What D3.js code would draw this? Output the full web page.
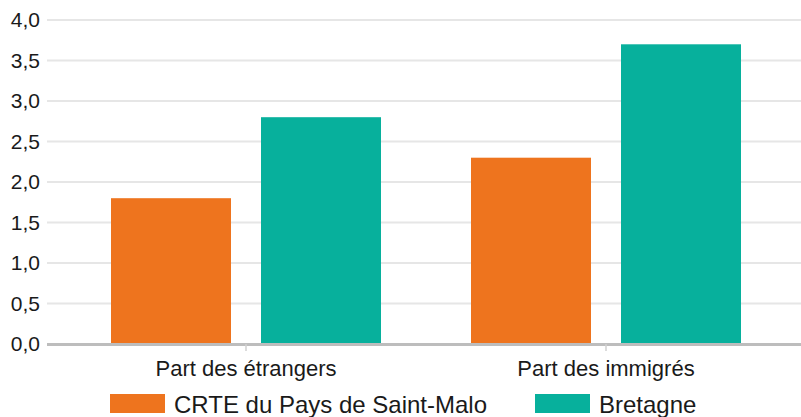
<!DOCTYPE html>
<html>
<head>
<meta charset="utf-8">
<script src="https://cdn.jsdelivr.net/npm/d3@7"></script>
<style>
  body { margin: 0; background: #fff; }
  text { font-family: "Liberation Sans", Arial, sans-serif; fill: #1a1a1a; }
</style>
</head>
<body>
<div id="chart"></div>
<script>
var categories = ['Part des étrangers', 'Part des immigrés'];
var seriesNames = ['CRTE du Pays de Saint-Malo', 'Bretagne'];
var saintMalo = [1.8, 2.3];
var bretagne = [2.8, 3.7];
var yTicks = [0, 0.5, 1, 1.5, 2, 2.5, 3, 3.5, 4];
var colors = ['#ee741e', '#07b09c'];

var width = 801, height = 417;
var svg = d3.select('#chart').append('svg')
    .attr('width', width).attr('height', height);

var y = d3.scaleLinear().domain([0, 4]).range([344, 20]);
var x0 = d3.scaleBand().domain(categories).range([66, 786]);
var x1 = d3.scaleBand().domain(seriesNames).range([0, x0.bandwidth()]).paddingInner(0.2).paddingOuter(0.3);

var fmt = function(v) { return d3.format('.1f')(v).replace('.', ','); };

// grid lines
svg.append('g').selectAll('line').data(yTicks.filter(function(d) { return d > 0; }))
    .enter().append('line')
    .attr('x1', 47).attr('x2', width)
    .attr('y1', function(d) { return y(d); }).attr('y2', function(d) { return y(d); })
    .attr('stroke', '#e6e6e6').attr('stroke-width', 2);

// y labels
svg.append('g').selectAll('text').data(yTicks)
    .enter().append('text')
    .attr('x', 40).attr('y', function(d) { return y(d); })
    .attr('dy', '0.35em')
    .attr('text-anchor', 'end')
    .style('font-size', '21px')
    .text(fmt);

var rows = categories.map(function(c, i) {
    return { cat: c, values: [saintMalo[i], bretagne[i]] };
});

var groups = svg.append('g').selectAll('g').data(rows).enter().append('g')
    .attr('transform', function(d) { return 'translate(' + x0(d.cat) + ',0)'; });

groups.selectAll('rect').data(function(d) {
        return d.values.map(function(v, j) { return { name: seriesNames[j], value: v, j: j }; });
    })
    .enter().append('rect')
    .attr('x', function(d) { return x1(d.name); })
    .attr('width', x1.bandwidth())
    .attr('y', function(d) { return y(d.value); })
    .attr('height', function(d) { return y(0) - y(d.value); })
    .attr('fill', function(d) { return colors[d.j]; });

// baseline + category ticks
svg.append('line')
    .attr('x1', 47).attr('x2', width)
    .attr('y1', y(0) + 0.5).attr('y2', y(0) + 0.5)
    .attr('stroke', '#bdbdbd').attr('stroke-width', 3);
svg.append('g').selectAll('line').data(categories)
    .enter().append('line')
    .attr('x1', function(d) { return x0(d) + x0.bandwidth() / 2; })
    .attr('x2', function(d) { return x0(d) + x0.bandwidth() / 2; })
    .attr('y1', y(0)).attr('y2', y(0) + 7)
    .attr('stroke', '#d0d0d0').attr('stroke-width', 1.5);

// category labels
svg.append('g').selectAll('text').data(categories)
    .enter().append('text')
    .attr('x', function(d) { return x0(d) + x0.bandwidth() / 2; })
    .attr('y', 376)
    .attr('text-anchor', 'middle')
    .style('font-size', '22px')
    .text(function(d) { return d; });

// legend
var legendPos = [110, 535];
var legend = svg.append('g').selectAll('g').data(seriesNames).enter().append('g')
    .attr('transform', function(d, i) { return 'translate(' + legendPos[i] + ',394)'; });
legend.append('rect')
    .attr('width', 55)
    .attr('height', 19)
    .attr('fill', function(d, i) { return colors[i]; });
legend.append('text')
    .attr('x', 64)
    .attr('y', 19)
    .style('font-size', '24px')
    .text(function(d) { return d; });
</script>
</body>
</html>
